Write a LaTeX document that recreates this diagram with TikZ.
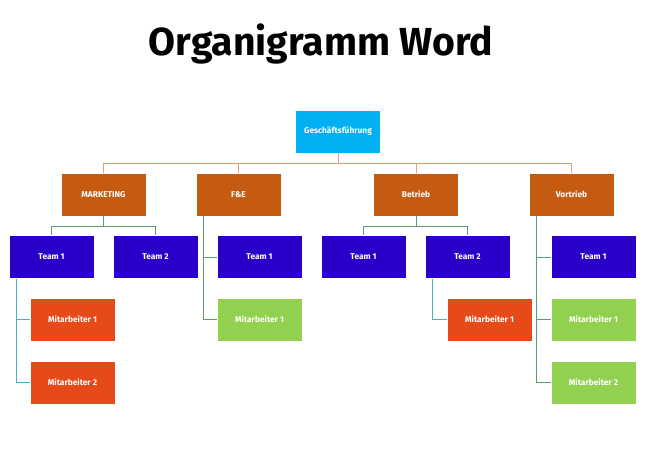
\documentclass[tikz,border=0pt]{standalone}
\usepackage{fontspec}
\setmainfont{Fira Sans}
\usetikzlibrary{positioning}
\definecolor{chef}{HTML}{00B0F0}
\definecolor{abt}{HTML}{C55A11}
\definecolor{team}{HTML}{2A00C8}
\definecolor{mitrot}{HTML}{E64A19}
\definecolor{mitgr}{HTML}{92D050}
\definecolor{lorange}{HTML}{E0A070}
\definecolor{lgreen}{HTML}{5C9A6E}
\definecolor{lblue}{HTML}{4BACC6}
\tikzset{
  box/.style={draw=white, thin, minimum width=3.4cm, minimum height=1.72cm,
              text=white, font=\bfseries\fontsize{9.5}{11}\selectfont, inner sep=0pt},
  chefbox/.style={box, fill=chef},
  abtbox/.style={box, fill=abt},
  teambox/.style={box, fill=team},
  rotbox/.style={box, fill=mitrot},
  grbox/.style={box, fill=mitgr},
  top/.style={draw=lorange, line width=0.8pt},
  gline/.style={draw=lgreen, line width=0.9pt},
  bline/.style={draw=lblue, line width=0.9pt}
}
\begin{document}
\begin{tikzpicture}[x=0.04cm,y=-0.04cm]
  \useasboundingbox (0,0) rectangle (650,450);

  \node[font=\bfseries\fontsize{44.5}{50}\selectfont] (titel) at (321,44) {Organigramm Word};

  \node[chefbox] (gf) at (338,131.5) {Geschäftsführung};

  \node[abtbox] (mk) at (103.5,194.5) {MARKETING};
  \node[abtbox] (fe) at (238.5,194.5) {F\&E};
  \node[abtbox] (bt) at (416,194.5) {Betrieb};
  \node[abtbox] (vt) at (571.5,194.5) {Vortrieb};

  \node[teambox] (mkA) at (51.5,257) {Team 1};
  \node[teambox] (mkB) at (155.5,257) {Team 2};
  \node[teambox] (feA) at (259.5,257) {Team 1};
  \node[teambox] (btA) at (363.5,257) {Team 1};
  \node[teambox] (btB) at (467.5,257) {Team 2};
  \node[teambox] (vtA) at (593.5,257) {Team 1};

  \node[rotbox] (mkM1) at (72.5,319.5) {Mitarbeiter 1};
  \node[rotbox] (mkM2) at (72.5,382.5) {Mitarbeiter 2};
  \node[grbox]  (feM1) at (259.5,319.5) {Mitarbeiter 1};
  \node[rotbox] (btM1) at (489.5,319.5) {Mitarbeiter 1};
  \node[grbox]  (vtM1) at (593.5,319.5) {Mitarbeiter 1};
  \node[grbox]  (vtM2) at (593.5,382.5) {Mitarbeiter 2};

  % Geschaeftsfuehrung -> Abteilungen
  \coordinate (bus) at (338,163);
  \foreach \a in {mk,fe,bt,vt}
    \draw[top] (gf.south) -- (bus) -| (\a.north);

  % Abteilungen -> Teams
  \draw[gline] (mk.south) -- ++(0,10) -| (mkA.north);
  \draw[gline] (mk.south) -- ++(0,10) -| (mkB.north);
  \draw[gline] (bt.south) -- ++(0,10) -| (btA.north);
  \draw[gline] (bt.south) -- ++(0,10) -| (btB.north);
  \coordinate (feL) at ([xshift=8*0.04cm]fe.south west);
  \draw[gline] (feL) |- (feA.west);
  \draw[gline] (feL) |- (feM1.west);
  \coordinate (vtL) at ([xshift=8*0.04cm]vt.south west);
  \draw[gline] (vtL) |- (vtA.west);
  \draw[gline] (vtL) |- (vtM1.west);
  \draw[gline] (vtL) |- (vtM2.west);

  % Teams -> Mitarbeiter
  \coordinate (mkL) at ([xshift=8*0.04cm]mkA.south west);
  \draw[bline] (mkL) |- (mkM1.west);
  \draw[bline] (mkL) |- (mkM2.west);
  \coordinate (btL) at ([xshift=8*0.04cm]btB.south west);
  \draw[bline] (btL) |- (btM1.west);
\end{tikzpicture}
\end{document}
